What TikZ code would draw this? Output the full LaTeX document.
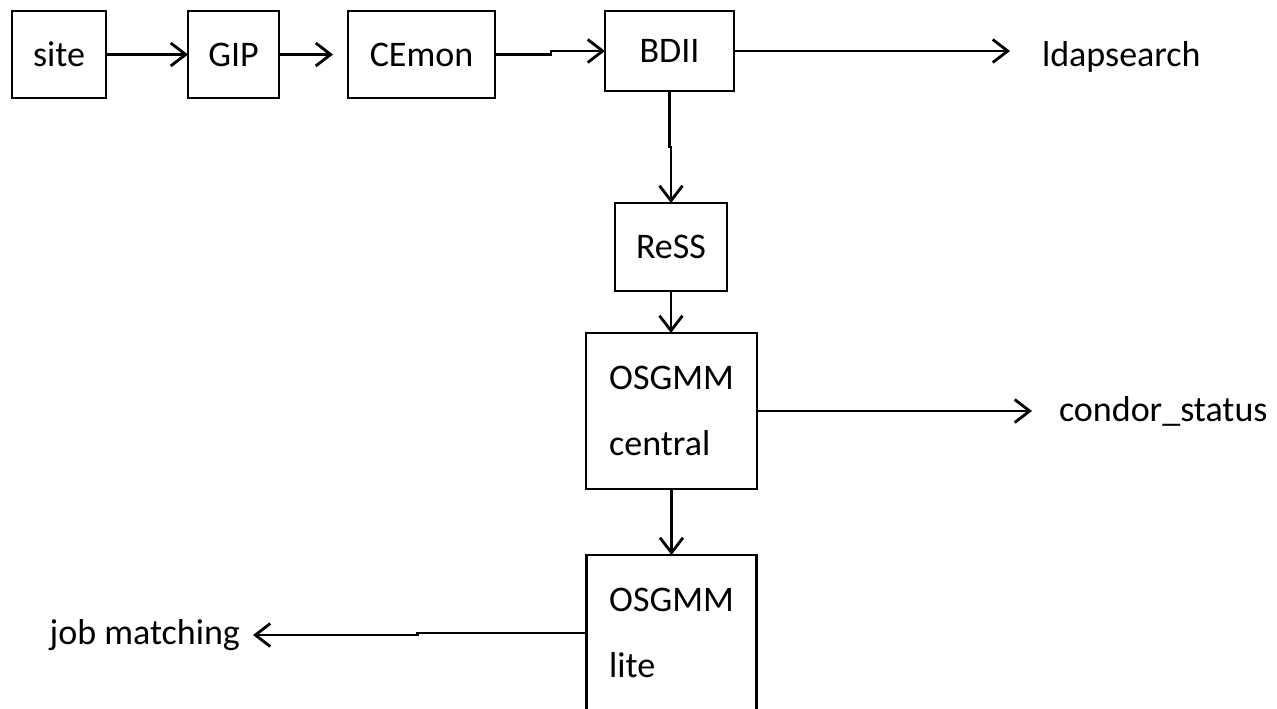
\documentclass[tikz,border=0pt]{standalone}
\usepackage{fontspec}
\setmainfont{Carlito}
\usetikzlibrary{arrows.meta}
\newcommand*{\boxfont}{\fontsize{20.5}{38}\selectfont}
\tikzstyle{base}=[inner sep=0pt, outer sep=0pt]
\tikzstyle{box}=[base, draw, line width=1.5pt, align=left]
\tikzstyle{outtext}=[base]
\tikzstyle{flow}=[line width=1.6pt, -{Straight Barb[length=0.3cm, width=0.46cm]}]

\begin{document}
\begin{tikzpicture}[x=0.02cm, y=-0.02cm, base]
    \boxfont
    \path [use as bounding box] (0,0) rectangle (1277,708);
    \clip (0,0) rectangle (1277,708);
    % top row
    \node [box, minimum width=1.88cm, minimum height=1.74cm] (site) at (59,54.5) {site};
    \node [box, minimum width=1.82cm, minimum height=1.74cm] (gip) at (233.5,54.5) {GIP};
    \node [box, minimum width=2.94cm, minimum height=1.74cm] (cemon) at (421.5,54.5) {CEmon};
    \node [box, minimum width=2.58cm, minimum height=1.60cm] (bdii) at (669.5,51) {BDII};
    % column
    \node [box, minimum width=2.24cm, minimum height=1.76cm] (ress) at (671,247) {ReSS};
    \node [box, minimum width=3.42cm, minimum height=3.12cm] (central) at (671.5,411) {OSGMM\\central};
    \node [box, minimum width=3.40cm, minimum height=3.12cm] (lite) at (671.5,633) {OSGMM\\lite};
    % outputs
    \node [outtext, anchor=base west] (ldap) at (1042,66) {ldapsearch};
    \node [outtext, anchor=west] (condor) at (1059,411) {condor\_status};
    \node [outtext, anchor=east] (job) at (240,635) {job matching};
    % arrows
    \draw [flow] (site) -- (gip);
    \draw [flow, shorten >=0.3cm] (gip) -- (cemon);
    \draw [flow] (cemon.east) -- ++(56,0) |- (bdii.west);
    \draw [flow, shorten >=0.64cm] (bdii.east) -- (bdii.east -| ldap.west);
    \draw [flow] (bdii.south) -- ++(0,56) -| (ress.north);
    \draw [flow] (ress.south) -- (ress.south |- central.north);
    \draw [flow, shorten >=0.54cm] (central.east) -- (condor.west);
    \draw [flow] (central.south) -- (lite.north);
    \draw [flow, shorten >=0.26cm] (lite.west) -- ++(-169,0) |- (job.east);
\end{tikzpicture}
\end{document}
